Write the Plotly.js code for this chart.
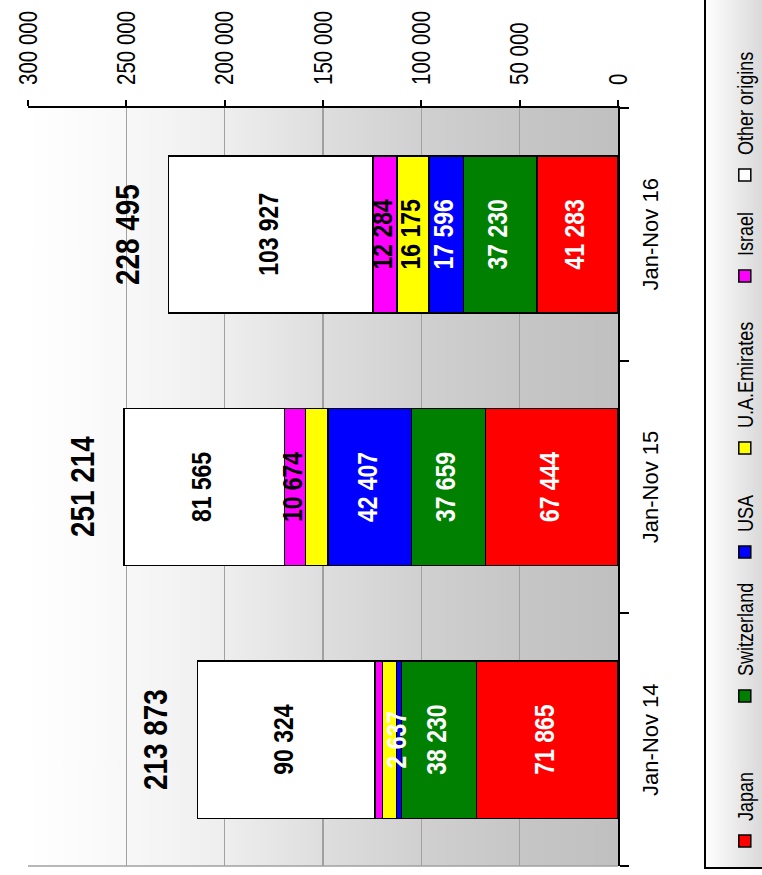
<!DOCTYPE html>
<html>
<head>
<meta charset="utf-8">
<script src="https://cdn.plot.ly/plotly-3.0.1.min.js"></script>
<style>
html,body{margin:0;padding:0;overflow:hidden;width:762px;height:875px;background:#fff;}
#wrap{position:absolute;left:0;top:0;width:875px;height:762px;transform-origin:0 0;transform:translate(0px,875px) rotate(-90deg);}
#chart{width:875px;height:762px;}
#chart .legendtext, #chart .legend2text, #chart .legend3text,
#chart .legend4text, #chart .legend5text, #chart .legend6text {
  transform-box:fill-box; transform-origin:0% 50%; transform:scaleX(0.82);
}
</style>
</head>
<body>
<div id="wrap"><div id="chart"></div></div>
<script>
// ---- data ----
const categories = ['Jan-Nov 14', 'Jan-Nov 15', 'Jan-Nov 16'];
const japan       = [71865, 67444, 41283];
const switzerland = [38230, 37659, 37230];
const usa         = [2637, 42407, 17596];
const uae         = [6900, 11465, 16175];
const israel      = [3917, 10674, 12284];
const other       = [90324, 81565, 103927];
const totals      = [213873, 251214, 228495];
const seriesNames = ['Japan', 'Switzerland', 'USA', 'U.A.Emirates', 'Israel', 'Other origins'];
const showJapan = [true, true, true];
const showSwitzerland = [true, true, true];
const showUsa = [true, true, true];
const showUae = [false, false, true];
const showIsrael = [false, true, true];
const showOther = [true, true, true];
const valueTicks = [0, 50000, 100000, 150000, 200000, 250000, 300000];

// ---- styling ----
const FONT = '"Liberation Sans", Arial, sans-serif';
const NARROW = 0.82; // horizontal squeeze to mimic a narrow face
const colors = ['#ff0000', '#008000', '#0000ff', '#ffff00', '#ff00ff', '#ffffff'];
const textColors = ['#ffffff', '#ffffff', '#ffffff', '#000000', '#000000', '#000000'];
const legendU = [39, 184, 328, 432, 604, 705];

function fmt(v) { return String(v).replace(/\B(?=(\d{3})+(?!\d))/g, ' '); }

const seriesValues = [japan, switzerland, usa, uae, israel, other];
const seriesShow = [showJapan, showSwitzerland, showUsa, showUae, showIsrael, showOther];

const barTraces = seriesValues.map((vals, i) => ({
  type: 'bar',
  name: seriesNames[i],
  x: categories,
  y: vals,
  marker: {color: colors[i], line: {color: '#000000', width: 1.5}},
  legend: i === 0 ? 'legend' : 'legend' + (i + 1),
  hoverinfo: 'skip'
}));

// segment labels drawn on top of all bars, at each segment's middle
const base = categories.map(() => 0);
const labelTraces = seriesValues.map((vals, i) => {
  const mids = vals.map((v, j) => { const m = base[j] + v / 2; base[j] += v; return m; });
  return {
    type: 'scatter', mode: 'text', showlegend: false, hoverinfo: 'skip', cliponaxis: false,
    x: categories, y: mids,
    text: vals.map((v, j) => seriesShow[i][j] ? fmt(v) : ''),
    textposition: 'middle center',
    textfont: {family: FONT, size: 28, color: textColors[i], weight: 'bold'}
  };
});

const W = 875, H = 762;
const M = {l: 9, r: 108, t: 28, b: 144};
const pw = W - M.l - M.r, ph = H - M.t - M.b;

function svgURI(svg) { return 'data:image/svg+xml;charset=utf-8,' + encodeURIComponent(svg); }
const plotGrad = "<svg xmlns='http://www.w3.org/2000/svg' width='100' height='100'><defs><linearGradient id='g' x1='0' y1='0' x2='0' y2='1'>" +
  "<stop offset='0' stop-color='#ffffff'/><stop offset='0.1667' stop-color='#f8f8f8'/><stop offset='0.3333' stop-color='#eeeeee'/>" +
  "<stop offset='0.5' stop-color='#dedede'/><stop offset='0.6667' stop-color='#d0d0d0'/><stop offset='0.8333' stop-color='#c6c6c6'/>" +
  "<stop offset='1' stop-color='#c0c0c0'/></linearGradient></defs><rect width='100' height='100' fill='url(#g)'/></svg>";
const legGrad = "<svg xmlns='http://www.w3.org/2000/svg' width='100' height='100'><defs><linearGradient id='g' x1='0' y1='0' x2='0' y2='1'>" +
  "<stop offset='0' stop-color='#ffffff'/><stop offset='1' stop-color='#d4d4d4'/></linearGradient></defs><rect width='100' height='100' fill='url(#g)'/></svg>";

const legBox = {u0: 7, v0: 705, u1: 900, v1: 770};

const layout = {
  width: W, height: H,
  margin: Object.assign({autoexpand: false, pad: 0}, M),
  paper_bgcolor: 'rgba(0,0,0,0)',
  plot_bgcolor: 'rgba(0,0,0,0)',
  separators: '. ',
  barmode: 'stack',
  bargap: 0.378,
  showlegend: true,
  xaxis: {
    type: 'category',
    categoryorder: 'array', categoryarray: categories,
    range: [-0.5, 2.5],
    showline: true, linecolor: '#000000', linewidth: 2,
    ticks: 'outside', tickson: 'boundaries', ticklen: 9, tickwidth: 2, tickcolor: '#000000',
    ticklabelstandoff: 12,
    tickfont: {family: FONT, size: 22, color: '#000000'},
    showgrid: false, zeroline: false, fixedrange: true
  },
  yaxis: {
    range: [0, 300000],
    side: 'right',
    tickvals: valueTicks,
    tickformat: ',',
    showline: true, linecolor: '#000000', linewidth: 2,
    ticks: 'outside', ticklen: 6, tickwidth: 2, tickcolor: '#000000',
    ticklabelstandoff: 10,
    tickfont: {family: FONT, size: 25, color: '#000000'},
    showgrid: true, gridcolor: '#a0a0a0', gridwidth: 1.5,
    zeroline: false, fixedrange: true
  },
  images: [
    {source: svgURI(plotGrad), xref: 'paper', yref: 'paper', x: 0, y: 1, sizex: 1, sizey: 1,
     xanchor: 'left', yanchor: 'top', sizing: 'stretch', layer: 'below'},
    {source: svgURI(legGrad), xref: 'paper', yref: 'paper',
     x: (legBox.u0 - M.l) / pw, y: (M.t + ph - legBox.v0) / ph,
     sizex: (legBox.u1 - legBox.u0) / pw, sizey: (legBox.v1 - legBox.v0) / ph,
     xanchor: 'left', yanchor: 'top', sizing: 'stretch', layer: 'below'}
  ],
  shapes: [
    {type: 'rect', xref: 'paper', yref: 'paper',
     x0: (legBox.u0 - M.l) / pw, x1: (legBox.u1 - M.l) / pw,
     y0: (M.t + ph - legBox.v0) / ph, y1: (M.t + ph - legBox.v1) / ph,
     line: {color: '#000000', width: 2}, fillcolor: 'rgba(0,0,0,0)', layer: 'above'},
    {type: 'line', xref: 'paper', yref: 'paper', x0: 0, x1: 0, y0: 0, y1: 1,
     line: {color: '#a0a0a0', width: 1.5}, layer: 'below'}
  ],
  annotations: categories.map((c, i) => ({
    x: c, y: totals[i], xref: 'x', yref: 'y',
    text: fmt(totals[i]), showarrow: false,
    xanchor: 'center', yanchor: 'middle', yshift: 42,
    font: {family: FONT, size: 34, color: '#000000', weight: 'bold'}
  }))
};

seriesNames.forEach((n, i) => {
  const key = i === 0 ? 'legend' : 'legend' + (i + 1);
  layout[key] = {
    orientation: 'h', xref: 'container', yref: 'container',
    x: (legendU[i] - 25) / W, xanchor: 'left',
    y: 1 - 745 / H, yanchor: 'middle',
    bgcolor: 'rgba(0,0,0,0)', borderwidth: 0,
    font: {family: FONT, size: 22, color: '#000000'},
    itemclick: false, itemdoubleclick: false
  };
});

function squeeze(el, s) {
  const cur = el.getAttribute('transform') || '';
  if (el.__sq !== undefined && el.__sq === cur) return; // already squeezed
  const bb = el.getBBox();
  const anchor = el.getAttribute('text-anchor') || 'start';
  const cx = anchor === 'middle' ? bb.x + bb.width / 2 : (anchor === 'end' ? bb.x + bb.width : bb.x);
  el.setAttribute('transform', cur + ' translate(' + cx + ',0) scale(' + s + ',1) translate(' + (-cx) + ',0)');
  el.__sq = el.getAttribute('transform');
}
function squeezeAll(gd) {
  const sel = ['.yaxislayer-above text', '.textpoint text', '.annotation-text'];
  sel.forEach(s => gd.querySelectorAll(s).forEach(el => { try { squeeze(el, NARROW); } catch (e) {} }));
}

Plotly.newPlot('chart', barTraces.concat(labelTraces), layout, {staticPlot: true, displayModeBar: false})
  .then(gd => {
    squeezeAll(gd);
    gd.on('plotly_afterplot', () => squeezeAll(gd));
    [0, 30, 100, 300].forEach(ms => setTimeout(() => squeezeAll(gd), ms));
  });
</script>
</body>
</html>
